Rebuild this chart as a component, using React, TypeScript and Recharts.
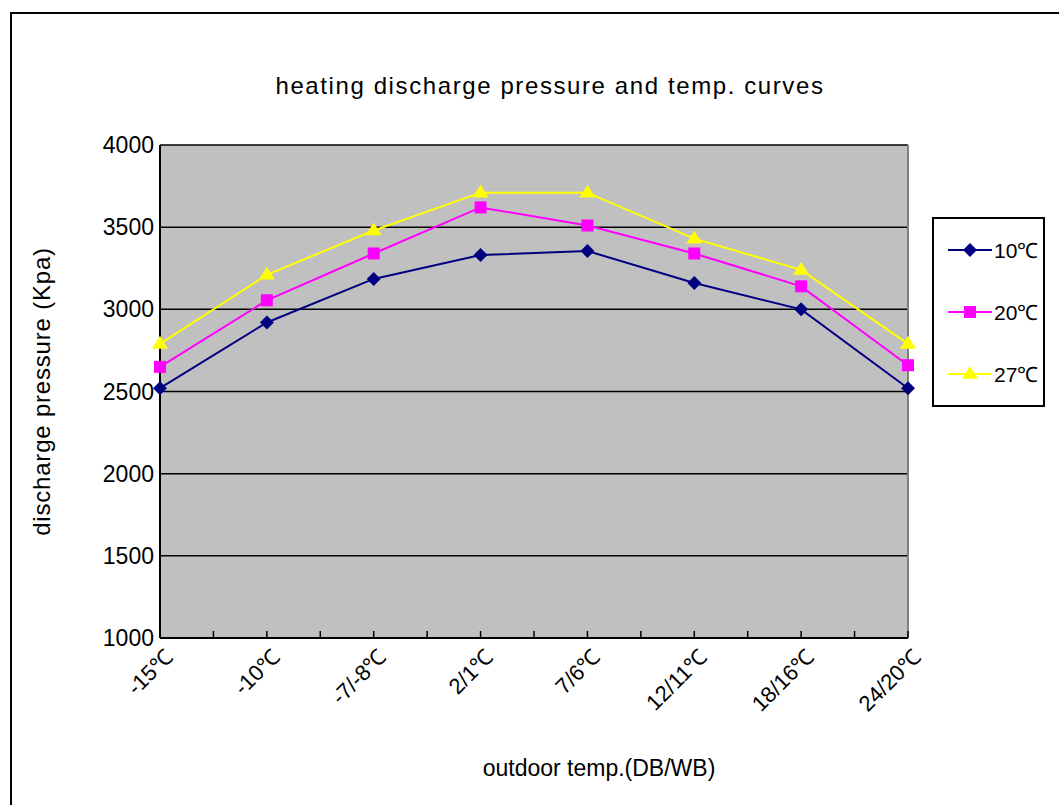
import React from "react";
import {
  LineChart,
  Line,
  XAxis,
  YAxis,
  CartesianGrid,
  ReferenceLine,
} from "recharts";

// outdoor conditions (DB/WB)
const categories = [
  "-15℃",
  "-10℃",
  "-7/-8℃",
  "2/1℃",
  "7/6℃",
  "12/11℃",
  "18/16℃",
  "24/20℃",
];

// discharge pressure (Kpa) per indoor temp
const t10 = [2520, 2920, 3185, 3330, 3355, 3160, 3000, 2520];
const t20 = [2650, 3055, 3340, 3620, 3510, 3340, 3140, 2660];
const t27 = [2790, 3210, 3480, 3710, 3710, 3430, 3240, 2790];

const yTicks = [1000, 1500, 2000, 2500, 3000, 3500, 4000];

const series = [
  { key: "t10", name: "10℃", color: "#000080", shape: "diamond" },
  { key: "t20", name: "20℃", color: "#FF00FF", shape: "square" },
  { key: "t27", name: "27℃", color: "#FFFF00", shape: "triangle" },
];

const data = categories.map((name, i) => ({
  idx: i,
  name,
  t10: t10[i],
  t20: t20[i],
  t27: t27[i],
}));

// major + half-way minor ticks on the category axis
const xTicks = categories.flatMap((_, i) =>
  i < categories.length - 1 ? [i, i + 0.5] : [i]
);

const FONT = "'Liberation Sans', Arial, sans-serif";

const markerPath = (shape: string, cx: number, cy: number) => {
  if (shape === "diamond") {
    const r = 7;
    return `M${cx},${cy - r}L${cx + r},${cy}L${cx},${cy + r}L${cx - r},${cy}Z`;
  }
  if (shape === "square") {
    const r = 6;
    return `M${cx - r},${cy - r}H${cx + r}V${cy + r}H${cx - r}Z`;
  }
  const r = 8;
  return `M${cx},${cy - r}L${cx + r},${cy + r * 0.6}L${cx - r},${cy + r * 0.6}Z`;
};

const makeDot = (shape: string, color: string) => (props: any) => {
  const { cx, cy, index } = props;
  if (cx == null || cy == null) return <g key={`d-${index}`} />;
  return <path key={`d-${shape}-${index}`} d={markerPath(shape, cx, cy)} fill={color} />;
};

const XTick = (props: any) => {
  const { x, y, payload } = props;
  const v = payload.value;
  const isMajor = Number.isInteger(v);
  const tx = x + 9;
  const ty = y + 15;
  return (
    <g>
      <line x1={x} y1={y} x2={x} y2={y - 7} stroke="#000" strokeWidth={1.5} />
      {isMajor && (
        <text
          x={tx}
          y={ty}
          transform={`rotate(-45 ${tx} ${ty})`}
          textAnchor="end"
          dominantBaseline="central"
          fontSize={22}
          fill="#000"
        >
          {categories[v]}
        </text>
      )}
    </g>
  );
};

const YLabel = (props: any) => {
  const { x, y, height } = props.viewBox;
  const cx = x + 41;
  const cy = y + height / 2;
  return (
    <text
      x={cx}
      y={cy}
      transform={`rotate(-90 ${cx} ${cy})`}
      textAnchor="middle"
      dominantBaseline="central"
      fontSize={24}
      letterSpacing={0.8}
      fill="#000"
    >
      discharge pressure (Kpa)
    </text>
  );
};

const XLabel = (props: any) => {
  const { x, y, width, height } = props.viewBox;
  return (
    <text
      x={x + width / 2 + 65}
      y={y + height - 37}
      textAnchor="middle"
      dominantBaseline="central"
      fontSize={23}
      fill="#000"
    >
      outdoor temp.(DB/WB)
    </text>
  );
};

const LegendBox = () => (
  <div
    style={{
      position: "absolute",
      left: 932,
      top: 217,
      width: 113,
      height: 190,
      border: "2px solid #000",
      background: "#fff",
      boxSizing: "border-box",
      display: "flex",
      flexDirection: "column",
      justifyContent: "space-around",
      paddingLeft: 14,
    }}
  >
    {series.map((s) => (
      <div key={s.key} style={{ display: "flex", alignItems: "center" }}>
        <svg width={44} height={20}>
          <line x1={0} y1={10} x2={44} y2={10} stroke={s.color} strokeWidth={2} />
          <path d={markerPath(s.shape, 22, 10)} fill={s.color} />
        </svg>
        <span style={{ fontSize: 21, marginLeft: 2 }}>{s.name}</span>
      </div>
    ))}
  </div>
);

export default function App() {
  return (
    <div
      style={{
        position: "relative",
        width: 1059,
        height: 805,
        overflow: "hidden",
        background: "#fff",
        fontFamily: FONT,
      }}
    >
      <style>{`body{margin:0}`}</style>
      <div
        style={{
          position: "absolute",
          left: 10,
          top: 12,
          width: 1200,
          height: 1000,
          border: "2px solid #000",
        }}
      />
      <div
        style={{
          position: "absolute",
          left: 0,
          width: 1100,
          top: 72,
          textAlign: "center",
          fontSize: 24,
          letterSpacing: 1.6,
        }}
      >
        heating discharge pressure and temp. curves
      </div>
      <div style={{ position: "absolute", left: 0, top: 0 }}>
        <LineChart
          width={1059}
          height={805}
          data={data}
          margin={{ top: 145, right: 151, left: 0, bottom: 0 }}
        >
          <CartesianGrid
            vertical={false}
            stroke="#000"
            strokeWidth={1.5}
            fill="#C0C0C0"
            fillOpacity={1}
          />
          <XAxis
            type="number"
            dataKey="idx"
            domain={[0, categories.length - 1]}
            ticks={xTicks}
            interval={0}
            tickLine={false}
            tickSize={0}
            tickMargin={0}
            tick={<XTick />}
            axisLine={{ stroke: "#000", strokeWidth: 2 }}
            height={167}
            label={<XLabel />}
          />
          <YAxis
            domain={[1000, 4000]}
            ticks={yTicks}
            interval={0}
            tickLine={false}
            tickMargin={0}
            tickSize={6}
            width={160}
            axisLine={{ stroke: "#000", strokeWidth: 2 }}
            tick={{ fontSize: 23, fill: "#000" }}
            label={<YLabel />}
          />
          <ReferenceLine x={categories.length - 1} stroke="#808080" strokeWidth={2} />
          {series.map((s) => (
            <Line
              key={s.key}
              type="linear"
              dataKey={s.key}
              name={s.name}
              stroke={s.color}
              strokeWidth={2}
              dot={makeDot(s.shape, s.color)}
              activeDot={false}
              isAnimationActive={false}
            />
          ))}
        </LineChart>
      </div>
      <LegendBox />
    </div>
  );
}
